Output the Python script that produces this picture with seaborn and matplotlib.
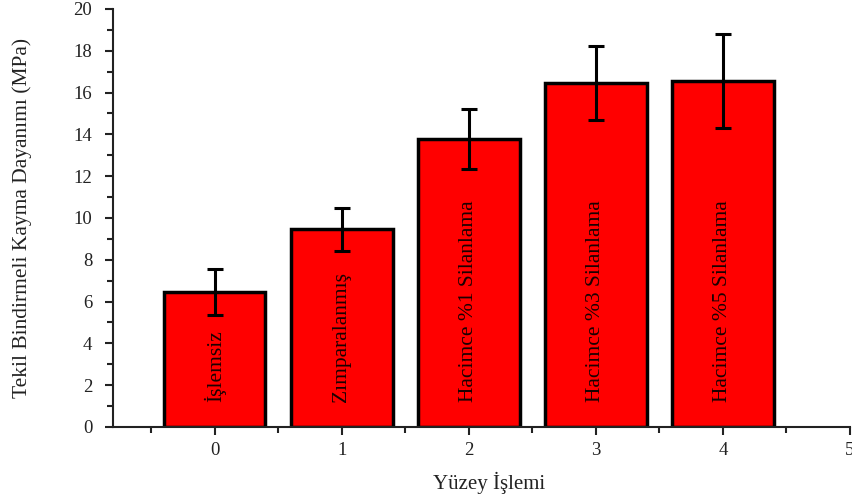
import matplotlib
matplotlib.use("Agg")
import matplotlib.pyplot as plt
from matplotlib.ticker import MultipleLocator
import seaborn as sns
import pandas as pd

# Surface treatment groups and their lap-shear strengths
positions = [0, 1, 2, 3, 4]
treatments = ["İşlemsiz", "Zımparalanmış", "Hacimce %1 Silanlama",
              "Hacimce %3 Silanlama", "Hacimce %5 Silanlama"]
strength = [6.46, 9.45, 13.78, 16.46, 16.55]
std_dev = [1.08, 1.05, 1.43, 1.75, 2.25]

df = pd.DataFrame({"pos": positions, "strength": strength})

sns.set_theme(style="ticks")
plt.rcParams["font.family"] = ["Liberation Serif", "DejaVu Serif"]

fig = plt.figure(figsize=(8.52, 4.99), dpi=100)
ax = fig.add_axes([0.1326, 0.1443, 0.865, 0.8377])

sns.barplot(data=df, x="pos", y="strength", native_scale=True, width=0.8,
            color="#ff0000", saturation=1, edgecolor="black", linewidth=2.5,
            errorbar=None, ax=ax)
ax.errorbar(positions, strength, yerr=std_dev, fmt="none", ecolor="black",
            elinewidth=2.2, capsize=6, capthick=2.2, zorder=5)

for x, label in zip(positions, treatments):
    ax.text(x, 1.2, label, rotation=90, ha="center", va="bottom",
            fontsize=15.5, color="#1a0000", zorder=6)

ax.set_xlim(-0.8, 5)
ax.set_ylim(0, 20)
ax.set_xticks(range(6))
ax.set_xticklabels([str(i) for i in range(6)])
ax.xaxis.set_minor_locator(MultipleLocator(0.5))
ax.yaxis.set_major_locator(MultipleLocator(2))
ax.yaxis.set_minor_locator(MultipleLocator(1))

for side in ("top", "right"):
    ax.spines[side].set_visible(False)
for side in ("left", "bottom"):
    ax.spines[side].set_linewidth(1.5)
    ax.spines[side].set_color("#222222")

ax.tick_params(which="major", direction="out", length=6, width=1.5,
               labelsize=13.5, colors="#222222", pad=4)
ax.tick_params(which="minor", direction="out", length=4, width=1.5,
               colors="#222222")
ax.tick_params(axis="x", pad=5)
ax.tick_params(axis="y", pad=9)

ax.set_xlabel("Yüzey İşlemi", fontsize=15, color="#222222")
ax.set_ylabel("Tekil Bindirmeli Kayma Dayanımı (MPa)", fontsize=15.5,
              color="#222222")
ax.xaxis.set_label_coords(0.51, -0.108)
ax.yaxis.set_label_coords(-0.11, 0.5)

fig.savefig("out.png", dpi=100)
